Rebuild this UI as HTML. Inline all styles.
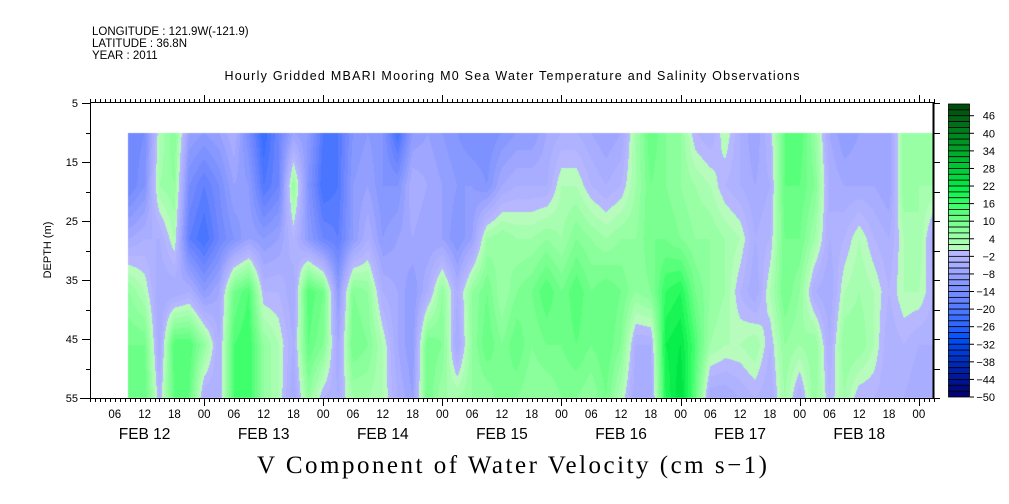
<!DOCTYPE html>
<html><head><meta charset="utf-8"><style>
html,body{margin:0;padding:0;background:#fff;width:1009px;height:504px;overflow:hidden}
#wrap{position:relative;width:1009px;height:504px}
#heat{position:absolute;left:0;top:0}
svg{position:absolute;left:0;top:0}
</style></head><body>
<div id="wrap">
<canvas id="heat" width="1009" height="504"></canvas>
<svg id="svg" width="1009" height="504" font-family="Liberation Sans, sans-serif"></svg>
</div>
<script>
// hours since FEB 12 00:00
const times = [9,12,15,18,21,24,27,30,33,36,39,42,45,48,51,54,57,60,63,66,69,72,75,78,81,84,87,90,93,96,99,102,105,108,111,114,117,120,123,126,129,132,135,138,141,144,147,150,153,156,159,162,165,168,171];
const depths = [10,19,28,37,46,55];
// values (cm/s) per time column, top to bottom by depth
const values = [
[-16,-16,-6,6,10,10],[-14,-12,-4,2,10,12],[2,4,-4,-6,-6,-2],[8,6,2,-6,14,12],
[-8,-14,-18,-4,14,12],[-10,-18,-22,-10,6,-4],[-8,-14,-16,-6,-4,-4],[-4,-8,-12,10,14,14],
[-14,-10,-8,14,16,16],[-24,-20,-10,-2,6,6],[-16,-16,-8,-2,2,2],[-8,6,-2,-6,-4,-6],
[-10,-12,-10,14,12,6],[-20,-22,-16,10,8,-2],[-20,-20,-18,-10,-6,-4],[-12,-10,-10,8,10,4],
[-10,-8,-4,6,8,4],[-12,-12,-10,-4,2,2],[-22,-12,-8,-6,-6,-4],[-10,-4,-6,-10,-10,-8],
[-8,-6,-8,-4,10,10],[-10,-8,-8,6,8,4],[-12,-10,-12,-4,-6,4],[-14,-10,-8,6,6,6],
[-14,-12,4,10,12,6],[-12,-6,6,4,8,10],[-10,-4,4,8,12,8],[-10,-4,4,10,8,6],
[-6,-4,6,14,10,6],[-4,2,4,10,10,8],[-4,2,8,14,12,8],[-6,-2,6,10,10,6],
[-8,-4,4,12,12,10],[-6,-2,6,10,8,2],[4,4,6,6,-4,-6],[12,10,10,8,-4,-6],
[8,8,10,16,20,18],[6,6,8,18,22,24],[-2,4,6,10,14,12],[-4,2,6,6,4,-6],
[2,-2,4,4,2,-6],[-4,-4,2,-2,2,-4],[-8,-6,-4,-6,4,-2],[-2,-4,-2,2,-2,-4],
[12,12,10,10,6,4],[14,12,10,6,4,-4],[6,8,4,-4,6,6],[-6,-4,-4,-6,-4,-2],
[-10,-6,-2,2,6,4],[-8,-6,2,4,6,-2],[-6,-6,-2,2,2,-2],[-8,-8,-4,-2,-4,-4],
[6,6,2,2,-2,-4],[6,4,4,2,-4,-6],[4,4,-4,-2,-4,-6]
];
const cbarLabels = [46,40,34,28,22,16,10,4,-2,-8,-14,-20,-26,-32,-38,-44,-50];
const hourLabels = ["06","12","18","00"];
const dayLabels = ["FEB 12","FEB 13","FEB 14","FEB 15","FEB 16","FEB 17","FEB 18"];
const depthTicks = [5,15,25,35,45,55];

const X0=90, X1=933, Y0=103, Y1=398;
const xOf = t => X0 + (t-1)*4.963;
const tOf = x => 1 + (x-X0)/4.963;
const yOf = d => Y0 + (d-5)*5.9;
const dOf = y => 5 + (y-Y0)/5.9;

const anchors=[[-50,[0,0,110]],[-40,[0,35,175]],[-30,[0,80,250]],[-26,[40,100,255]],[-20,[80,120,255]],[-16,[110,135,255]],[-10,[140,155,255]],[-6,[165,170,255]],[0,[185,185,255]],
[0.01,[190,250,195]],[4,[160,255,170]],[8,[130,255,150]],[12,[100,255,130]],[16,[50,255,100]],[22,[0,235,70]],[30,[0,190,50]],[40,[0,130,30]],[50,[0,70,10]]];
function color(v){
  const q=Math.floor(v/2)*2+1; let c=anchors[anchors.length-1][1];
  for(let i=0;i<anchors.length-1;i++){const a=anchors[i],b=anchors[i+1];
    if(q>=a[0]&&q<=b[0]){const f=(q-a[0])/(b[0]-a[0]);c=a[1].map((u,k)=>Math.round(u+(b[1][k]-u)*f));break;}}
  if(q<-50)c=anchors[0][1];
  return 'rgb('+c.join(',')+')';
}
function valAt(t,d){
  let i=0; while(i<times.length-2 && t>times[i+1]) i++;
  let ft=(t-times[i])/(times[i+1]-times[i]); ft=Math.max(0,Math.min(1,ft));
  let j=0; while(j<depths.length-2 && d>depths[j+1]) j++;
  let fd=(d-depths[j])/(depths[j+1]-depths[j]); fd=Math.max(0,Math.min(1,fd));
  const a=values[i][j]*(1-fd)+values[i][j+1]*fd, b=values[i+1][j]*(1-fd)+values[i+1][j+1]*fd;
  return a*(1-ft)+b*ft;
}
const ctx=document.getElementById('heat').getContext('2d');
const xs=Math.round(xOf(8.7)), ys=Math.round(yOf(10));
for(let x=xs;x<X1;x++){const t=tOf(x+0.5);
  for(let y=ys;y<Y1;y++){ctx.fillStyle=color(valAt(t,dOf(y+0.5)));ctx.fillRect(x,y,1,1);}}

const NS='http://www.w3.org/2000/svg', svg=document.getElementById('svg');
function el(tag,attrs,parent){const e=document.createElementNS(NS,tag);for(const k in attrs)e.setAttribute(k,attrs[k]);(parent||svg).appendChild(e);return e;}
function txt(s,attrs){const e=el('text',attrs);e.textContent=s;return e;}

// header
let h=txt('LONGITUDE : 121.9W(-121.9)',{x:92,y:35,'font-size':11.5});

h=txt('LATITUDE : 36.8N',{x:92,y:47,'font-size':11.5});

h=txt('YEAR : 2011',{x:92,y:59,'font-size':11.5});

h=txt('Hourly Gridded MBARI Mooring M0 Sea Water Temperature and Salinity Observations',{x:512,y:80,'font-size':12.5,'text-anchor':'middle',textLength:575});


// frame
const g=el('g',{stroke:'#000','stroke-width':1,fill:'none'});

el('line',{x1:X0,y1:Y0-0.5,x2:X1,y2:Y0-0.5},g);
el('line',{x1:80,y1:Y1+0.5,x2:X1,y2:Y1+0.5},g);
el('line',{x1:X0+0.5,y1:Y0,x2:X0+0.5,y2:Y1},g);
el('line',{x1:X1+0.5,y1:Y0-1,x2:X1+0.5,y2:Y1+1,'stroke-width':2},g);
// hourly ticks
for(let t=1;t<=171;t++){const x=Math.round(xOf(t))+0.5, big=(t%24===0);
  el('line',{x1:x,y1:Y0,x2:x,y2:Y0-(big?8:4)},g);
  el('line',{x1:x,y1:Y1,x2:x,y2:Y1+(big?8:4)},g);}
// depth ticks
for(let d=5;d<=55;d+=5){const y=Math.round(yOf(d))+0.5;
  el('line',{x1:X0-(d%10===5?8:4),y1:y,x2:X0,y2:y},g);
  el('line',{x1:X1,y1:y,x2:X1+7,y2:y},g);}
depthTicks.forEach(d=>{const e=txt(String(d),{x:78,y:yOf(d)+4,'font-size':11,'text-anchor':'end'});
  });
h=txt('DEPTH (m)',{x:0,y:0,'font-size':11,'text-anchor':'middle',transform:'translate(51,250) rotate(-90)'});

// hour labels
for(let t=6;t<=168;t+=6){const e=txt(hourLabels[(t/6-1)%4],{x:xOf(t),y:418,'font-size':11.5,'text-anchor':'middle'});
  }
dayLabels.forEach((s,i)=>{const e=txt(s,{x:xOf(12+24*i),y:439,'font-size':15.5,'text-anchor':'middle'});
  });
h=txt('V Component of Water Velocity (cm s\u22121)',{x:512,y:473,'font-size':25,'font-family':'Liberation Serif, serif','text-anchor':'middle',textLength:510});


// colorbar
const cb=el('g',{});

const CT=104, CB=397, bh=(CB-CT)/50;
for(let k=0;k<50;k++){const v=50-2*k-1;
  el('rect',{x:948.5,y:CT+k*bh,width:21,height:bh,fill:color(v),stroke:'#000','stroke-width':0.8},cb);}
cbarLabels.forEach(v=>{const y=CT+(50-v)/2*bh;
  el('line',{x1:970,y1:y,x2:974,y2:y,stroke:'#000'},cb);
  const e=txt(String(v).replace('-','\u2212'),{x:995,y:y+4,'font-size':11,'text-anchor':'end'});
  });
</script>
</body></html>
